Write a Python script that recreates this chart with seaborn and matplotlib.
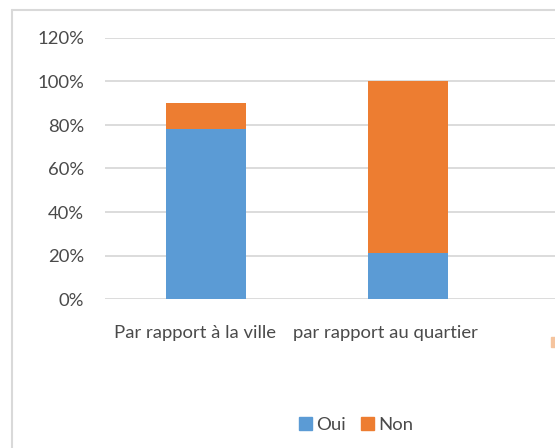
import matplotlib
matplotlib.use("Agg")
import matplotlib.pyplot as plt
import matplotlib.patches as mpatches
import matplotlib.transforms as mtransforms
from matplotlib.lines import Line2D
import seaborn as sns
import pandas as pd

categories = ["Par rapport à la ville", "par rapport au quartier"]
oui = [0.78, 0.21]
non = [0.12, 0.79]
yticks = [0, 0.2, 0.4, 0.6, 0.8, 1.0, 1.2]
ytick_labels = ["0%", "20%", "40%", "60%", "80%", "100%", "120%"]

BLUE = "#5B9BD5"
ORANGE = "#ED7D31"
GRID = "#D9D9D9"
TEXT = "#4A4A4A"

sns.set_style("white")
plt.rcParams["font.family"] = ["Lato", "DejaVu Sans"]

W, H = 555, 448
fig = plt.figure(figsize=(W / 100, H / 100), dpi=100)
fig.patch.set_facecolor("white")

ax = fig.add_axes([105 / W, 149 / H, (W - 105) / W, 261 / H])

df = pd.DataFrame({"cat": categories, "oui": oui, "non": non})
df["total"] = df["oui"] + df["non"]

sns.barplot(data=df, x="cat", y="total", color=ORANGE, width=0.4,
            saturation=1, linewidth=0, ax=ax, zorder=3)
sns.barplot(data=df, x="cat", y="oui", color=BLUE, width=0.4,
            saturation=1, linewidth=0, ax=ax, zorder=4)

ax.set_xlim(-0.5, -0.5 + (W - 105) / 202)
ax.set_ylim(0, 1.2)
ax.set_yticks(yticks)
ax.set_yticklabels(ytick_labels)
ax.set_xlabel("")
ax.set_ylabel("")
ax.grid(axis="y", color=GRID, linewidth=1.3, zorder=0)
ax.grid(axis="x", visible=False)
for s in ax.spines.values():
    s.set_visible(False)
ax.tick_params(axis="both", length=0, colors=TEXT, labelsize=13.3)
ax.tick_params(axis="y", pad=15)
ax.tick_params(axis="x", pad=19)

offsets = [-11, -23]
for lbl, off in zip(ax.get_xticklabels(), offsets):
    lbl.set_transform(lbl.get_transform() +
                      mtransforms.ScaledTranslation(off / 100, 0, fig.dpi_scale_trans))

# legend
handles = [mpatches.Patch(color=BLUE, label="Oui"),
           mpatches.Patch(color=ORANGE, label="Non")]
fig.legend(handles=handles, loc="center", bbox_to_anchor=(356 / W, 1 - 425 / H),
           ncol=2, frameon=False, handlelength=0.7, handleheight=0.7,
           handletextpad=0.25, columnspacing=0.8, fontsize=13.3, labelcolor=TEXT)

# chart border (cropped)
fig.add_artist(Line2D([11.5 / W, 11.5 / W], [0, 1 - 10 / H], color=GRID, linewidth=1.5,
                      transform=fig.transFigure))
fig.add_artist(Line2D([11.5 / W, 1], [1 - 10 / H, 1 - 10 / H], color=GRID, linewidth=1.5,
                      transform=fig.transFigure))
# partially visible item at right edge
fig.add_artist(mpatches.Rectangle((551 / W, 1 - 347 / H), 5 / W, 10 / H,
                                  color="#F5C49E", transform=fig.transFigure))

fig.savefig("out.png", dpi=100)
